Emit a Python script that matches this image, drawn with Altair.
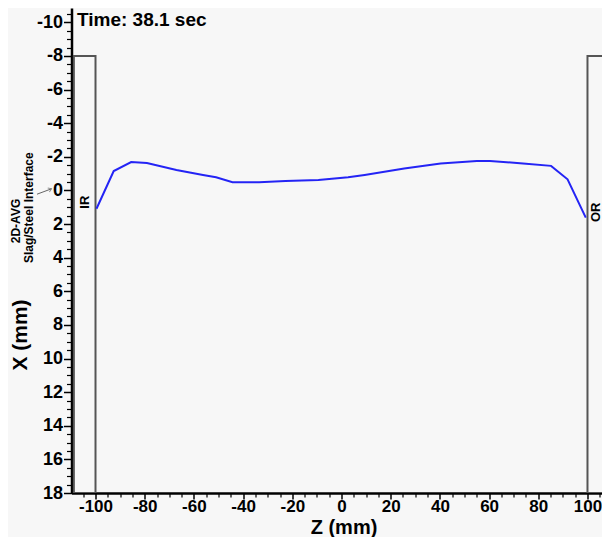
import altair as alt
import pandas as pd

# ---- data ----
z_mm = [-99.6, -92.6, -85.5, -79.1, -67.1, -56.3, -51.0, -44.3, -33.5, -22.8,
        -9.4, 2.7, 9.4, 25.5, 40.3, 55.0, 60.4, 73.8, 85.2, 91.9, 99.3]
x_mm = [1.09, -1.15, -1.69, -1.63, -1.21, -0.92, -0.78, -0.49, -0.49, -0.56,
        -0.62, -0.78, -0.92, -1.30, -1.60, -1.75, -1.75, -1.60, -1.46, -0.66, 1.62]

wall_names = ["IR", "OR"]
wall_z0 = [-108.8, 100.0]
wall_z1 = [-100.0, 112.0]
wall_top = [-8.0, -8.0]
wall_bottom = [18.0, 18.0]
wall_label_z = [-104.3, 103.5]
wall_label_x = [0.7, 1.3]

z_domain = [-109.76, 105.9]
x_domain = [-10.85, 18.0]
z_major = list(range(-100, 101, 20))
z_minor = [v for v in range(-105, 106, 5) if v % 20 != 0]
x_major = list(range(-10, 19, 2))
x_minor = [v / 2 for v in range(-21, 37) if v % 4 != 0]

time_text = "Time: 38.1 sec"
annot_line1 = "2D-AVG"
annot_line2 = "Slag/Steel Interface"

FONT = "Liberation Sans"

line_df = pd.DataFrame({"z": z_mm, "x": x_mm})
wall_df = pd.DataFrame({"name": wall_names, "z0": wall_z0, "z1": wall_z1,
                        "top": wall_top, "bottom": wall_bottom,
                        "lz": wall_label_z, "lx": wall_label_x})
one = pd.DataFrame({"a": [0]})

xs = alt.Scale(domain=z_domain, nice=False, zero=False)
ys = alt.Scale(domain=x_domain, nice=False, zero=False, reverse=True)

x_axis = alt.Axis(
    orient="bottom", values=z_major,
    labelExpr="'' + datum.value",
    tickSize=6, tickColor="black", tickWidth=1.5,
    domainColor="black", domainWidth=2.5,
    labelFont=FONT, labelFontSize=17, labelFontWeight="bold", labelColor="black",
    labelBaseline="alphabetic", labelPadding=12,
    labelOverlap=False, labelFlush=False,
    grid=False,
    title="Z (mm)", titleFont=FONT, titleFontSize=20, titleFontWeight="bold",
    titleColor="black", titleX=272, titleY=40, titleBaseline="alphabetic",
    titleAlign="center",
)
x_axis_minor = alt.Axis(
    orient="bottom", values=z_minor, labels=False, domain=False, grid=False,
    tickSize=4, tickColor="black", tickWidth=1.2, title=None,
)
y_axis = alt.Axis(
    orient="left", values=x_major,
    labelExpr="'' + datum.value",
    tickSize=8, tickColor="black", tickWidth=1.5,
    domainColor="black", domainWidth=2.5,
    labelFont=FONT, labelFontSize=18, labelFontWeight="bold", labelColor="black",
    labelPadding=1, labelOverlap=False, labelFlush=False,
    grid=False,
    title="X (mm)", titleFont=FONT, titleFontSize=21, titleFontWeight="bold",
    titleColor="black", titleAngle=270, titleX=-45.5, titleY=326.5,
    titleBaseline="alphabetic", titleAlign="center",
)
y_axis_minor = alt.Axis(
    orient="left", values=x_minor, labels=False, domain=False, grid=False,
    tickSize=5, tickColor="black", tickWidth=1.2, title=None,
)

walls = alt.Chart(wall_df).mark_rect(
    fill="#f7f7f7", stroke="#555555", strokeWidth=2, clip=True
).encode(
    x=alt.X("z0:Q", scale=xs, axis=x_axis),
    x2="z1:Q",
    y=alt.Y("top:Q", scale=ys, axis=y_axis),
    y2="bottom:Q",
)

line = alt.Chart(line_df).mark_line(color="#2424f5", strokeWidth=2).encode(
    x=alt.X("z:Q", scale=xs, axis=x_axis_minor),
    y=alt.Y("x:Q", scale=ys, axis=y_axis_minor),
)

wall_labels = alt.Chart(wall_df).mark_text(
    font=FONT, fontSize=13, fontWeight="bold", color="black",
    angle=270, align="center", baseline="middle"
).encode(
    x=alt.X("lz:Q", scale=xs, axis=None),
    y=alt.Y("lx:Q", scale=ys, axis=None),
    text="name:N",
)

time_label = alt.Chart(one).mark_text(
    font=FONT, fontSize=19, fontWeight="bold", color="black",
    align="left", baseline="top"
).encode(x=alt.value(5.5), y=alt.value(3), text=alt.value(time_text))

annot1 = alt.Chart(one).mark_text(
    font=FONT, fontSize=12, fontWeight="bold", color="black",
    angle=270, align="center", baseline="alphabetic"
).encode(x=alt.value(-51.5), y=alt.value(213), text=alt.value(annot_line1))

annot2 = alt.Chart(one).mark_text(
    font=FONT, fontSize=12, fontWeight="bold", color="black",
    angle=270, align="center", baseline="alphabetic"
).encode(x=alt.value(-38.5), y=alt.value(199.7), text=alt.value(annot_line2))

arrow_shaft = alt.Chart(one).mark_rule(color="#666666", strokeWidth=1).encode(
    x=alt.value(-34.5), y=alt.value(186.2), x2=alt.value(-20), y2=alt.value(180.8)
)
arrow_head = alt.Chart(one).mark_point(
    shape="M -1 -0.7 L 0 0 L -1 0.7", filled=False, stroke="#666666",
    strokeWidth=1, size=40, angle=338
).encode(x=alt.value(-20), y=alt.value(180.8))

chart = alt.layer(
    walls, line, wall_labels, time_label, annot1, annot2, arrow_shaft, arrow_head
).resolve_axis(
    x="independent", y="independent"
).properties(
    width=530.5, height=485,
    autosize=alt.AutoSizeParams(type="none"),
    padding={"left": 63.5, "top": 0, "right": 0, "bottom": 44},
    background="#f7f7f7",
).configure_view(stroke=None)

chart.save("out.html", embed_options={"renderer": "svg", "actions": False})
